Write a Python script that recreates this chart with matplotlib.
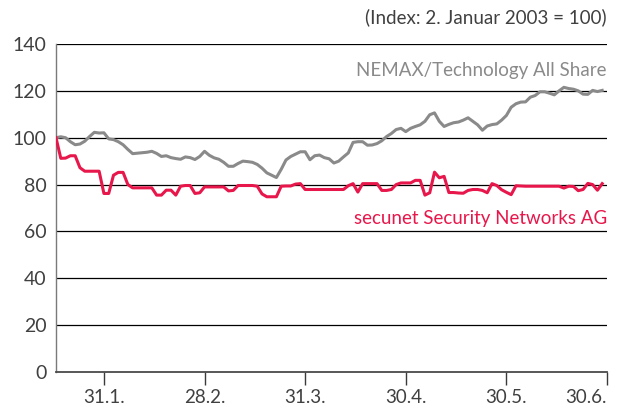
import matplotlib
matplotlib.use("Agg")
import matplotlib.pyplot as plt

# ---- data (trading-day index, Index: 2. Januar 2003 = 100) ----
nemax = [100, 100.4, 100, 98.3, 97, 97.3, 98.5, 100.5, 102.3, 102, 102.1,
         99.5, 99.2, 98.3, 97, 95, 93.2, 93.4, 93.6, 93.8, 94.2,
         93.3, 92, 92.3, 91.5, 91.1, 90.8, 91.8, 91.5, 90.7, 92,
         94.2, 92.5, 91.4, 90.8, 89.5, 87.8, 87.8, 89,
         90, 89.8, 89.5, 88.6, 87, 85, 84, 83, 86.5, 90.5, 92, 93, 94, 94,
         90.6, 92.3, 92.6, 91.5, 91, 89.2, 90, 91.8, 93.5, 98, 98.3, 98.3,
         96.8, 96.9, 97.5, 98.7, 100.5, 101.8, 103.5, 104, 102.6, 104, 104.8,
         105.5, 107, 109.8, 110.6, 107, 104.8, 105.7, 106.4, 106.7, 107.5,
         108.5, 107, 105.5, 103.2, 105, 105.6, 105.9, 107.5, 109.5, 113,
         114.5, 115.2, 115.3, 117.3, 118, 119.6, 119.6, 119, 118.3, 120,
         121.5, 121, 120.7, 120, 118.6, 118.5, 120.2, 119.7, 120.2]

secunet = [100, 91.2, 91.3, 92.3, 92.3, 87.2, 85.7, 85.7, 85.7, 85.7, 76.2,
           76.2, 84, 85.2, 85.2, 80, 78.6, 78.6, 78.6, 78.6, 78.6,
           75.5, 75.5, 77.6, 77.6, 75.5, 79.3, 79.6, 79.6, 76.2, 76.5,
           79, 79, 79, 79, 79, 77.3, 77.5, 79.6,
           79.6, 79.6, 79.6, 79.3, 76, 74.8, 74.8, 74.8, 79.3, 79.4, 79.4,
           80.2, 80.4, 77.9, 77.9, 77.9, 77.9, 77.9, 77.9, 77.9, 77.9, 77.9,
           79.5, 80.4, 76.8, 80.4, 80.4, 80.4, 80.4, 77.5, 77.5, 77.9, 80,
           80.7, 80.7, 80.7, 81.8, 81.8,
           75.5, 76.5, 85.3, 82.9, 83.5, 76.6, 76.6, 76.4, 76.3, 77.5, 77.9,
           77.9, 77.5, 76.5, 80.4, 79.6, 77.8, 76.7, 75.7, 79.5, 79.4, 79.3,
           79.3, 79.3, 79.3, 79.3, 79.3, 79.3, 79.3, 78.5, 79.3, 79.2, 77.4,
           77.9, 80.5, 80, 77.6, 80.4]

tick_labels = ["31.1.", "28.2.", "31.3.", "30.4.", "30.5.", "30.6."]
tick_pos = [10, 31, 52, 73, 94, 115]
y_ticks = [0, 20, 40, 60, 80, 100, 120, 140]

series_names = ["NEMAX/Technology All Share", "secunet Security Networks AG"]
grey = "#8a8a8a"
red = "#e8174b"
text_col = "#404040"

plt.rcParams['font.family'] = ['Lato', 'DejaVu Sans']
FS = 13.5

fig = plt.figure(figsize=(6.21, 4.08), dpi=100)
ax = fig.add_axes([56/621, 1-372/408, (607-56)/621, (372-44)/408])

ax.set_xlim(0, 115)
ax.set_ylim(0, 140)

for yv in y_ticks[1:]:
    ax.axhline(yv, color="black", lw=0.9, zorder=1)

ax.plot(range(len(nemax)), nemax, color=grey, lw=2.2, zorder=3)
ax.plot(range(len(secunet)), secunet, color=red, lw=2.2, zorder=4)

for s in ["top", "right"]:
    ax.spines[s].set_visible(False)
ax.spines["left"].set_color("#7a7a7a")
ax.spines["left"].set_linewidth(1.0)
ax.spines["bottom"].set_color("#4a4a4a")
ax.spines["bottom"].set_linewidth(1.3)

ax.set_yticks(y_ticks)
ax.set_yticklabels([str(v) for v in y_ticks])
ax.tick_params(axis="y", length=0, pad=7, labelsize=FS + 0.5, labelcolor=text_col)

ax.set_xticks(tick_pos)
ax.set_xticklabels(tick_labels)
ax.tick_params(axis="x", length=9.5, width=1.0, color="#3a3a3a", pad=2.5,
               labelsize=FS, labelcolor=text_col)
xl = ax.get_xticklabels()
xl[-1].set_horizontalalignment("right")

ax.text(1.0, 119 + 9.5, series_names[0], transform=ax.get_yaxis_transform(),
        ha="right", va="center", color=grey, fontsize=FS)
ax.text(1.0, 65.5, series_names[1], transform=ax.get_yaxis_transform(),
        ha="right", va="center", color=red, fontsize=FS)

fig.text(607/621, 1-17/408, "(Index: 2. Januar 2003 = 100)", ha="right",
         va="center", color=text_col, fontsize=FS)

fig.savefig("out.png", dpi=100)
